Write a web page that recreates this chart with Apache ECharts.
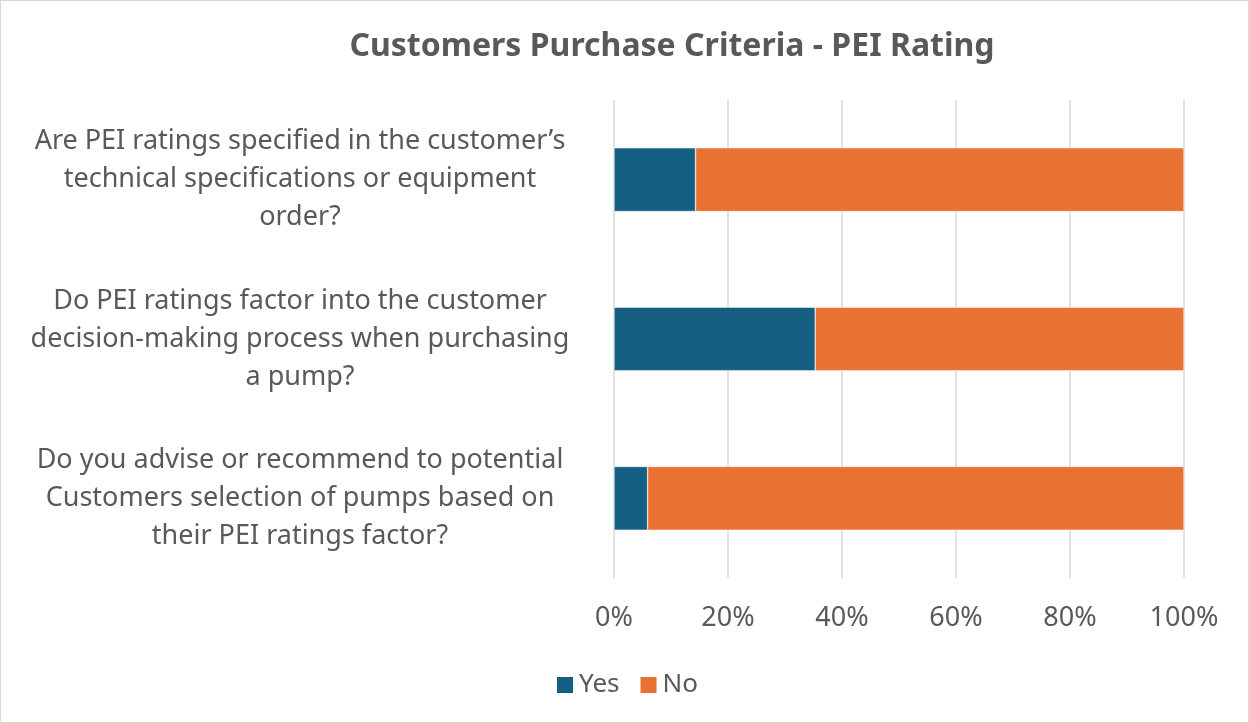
<!DOCTYPE html>
<html>
<head>
<meta charset="utf-8">
<script src="https://cdn.jsdelivr.net/npm/echarts@6/dist/echarts.min.js"></script>
<style>
  html, body { margin: 0; padding: 0; background: #ffffff; }
  #main { width: 1247px; height: 721px; border: 1px solid #d9d9d9; }
</style>
</head>
<body>
<div id="main"></div>
<script>
// 问题（从上到下）
const categories = [
  'Are PEI ratings specified in the customer\u2019s\ntechnical specifications or equipment\norder?',
  'Do PEI ratings factor into the customer\ndecision-making process when purchasing\na pump?',
  'Do you advise or recommend to potential\nCustomers selection of pumps based on\ntheir PEI ratings factor?'
];
// 百分比
const yesValues = [14.3, 35.3, 5.9];
const noValues = [85.7, 64.7, 94.1];
const seriesNames = ['Yes', 'No'];

const textColor = '#595959';
const gridColor = '#d9d9d9';
const font = '"Noto Sans", sans-serif';

const myChart = echarts.init(document.getElementById('main'));
const options = {
  animation: false,
  title: {
    text: 'Customers Purchase Criteria - PEI Rating',
    left: 666,
    textAlign: 'center',
    top: 25,
    textStyle: {
      color: textColor,
      fontSize: 32,
      fontWeight: 'bold',
      fontFamily: font,
    },
  },
  legend: {
    data: seriesNames,
    left: 549,
    top: 666,
    itemWidth: 18,
    itemHeight: 18,
    itemGap: 19,
    icon: 'rect',
    textStyle: {
      color: textColor,
      fontSize: 26,
      fontFamily: font,
    },
  },
  grid: {
    left: 613,
    right: 64,
    top: 99,
    bottom: 144,
  },
  xAxis: {
    type: 'value',
    min: 0,
    max: 100,
    interval: 20,
    axisLine: { show: false },
    axisTick: { show: false },
    splitLine: {
      show: true,
      lineStyle: { color: gridColor, width: 1.5 },
    },
    axisLabel: {
      formatter: '{value}%',
      color: textColor,
      fontSize: 27,
      fontFamily: font,
      margin: 27,
    },
  },
  yAxis: {
    type: 'category',
    data: categories,
    inverse: true,
    axisLine: { show: false },
    axisTick: { show: false },
    axisLabel: {
      color: textColor,
      fontSize: 27,
      lineHeight: 38,
      fontFamily: font,
      align: 'center',
      margin: 314,
    },
  },
  series: [
    {
      name: seriesNames[0],
      type: 'bar',
      stack: 'total',
      data: yesValues,
      barCategoryGap: '60%',
      itemStyle: { color: '#156082', borderColor: '#ffffff', borderWidth: 0.5 },
    },
    {
      name: seriesNames[1],
      type: 'bar',
      stack: 'total',
      data: noValues,
      barCategoryGap: '60%',
      itemStyle: { color: '#e97132', borderColor: '#ffffff', borderWidth: 0.5 },
    },
  ],
};
myChart.setOption(options);
</script>
</body>
</html>
